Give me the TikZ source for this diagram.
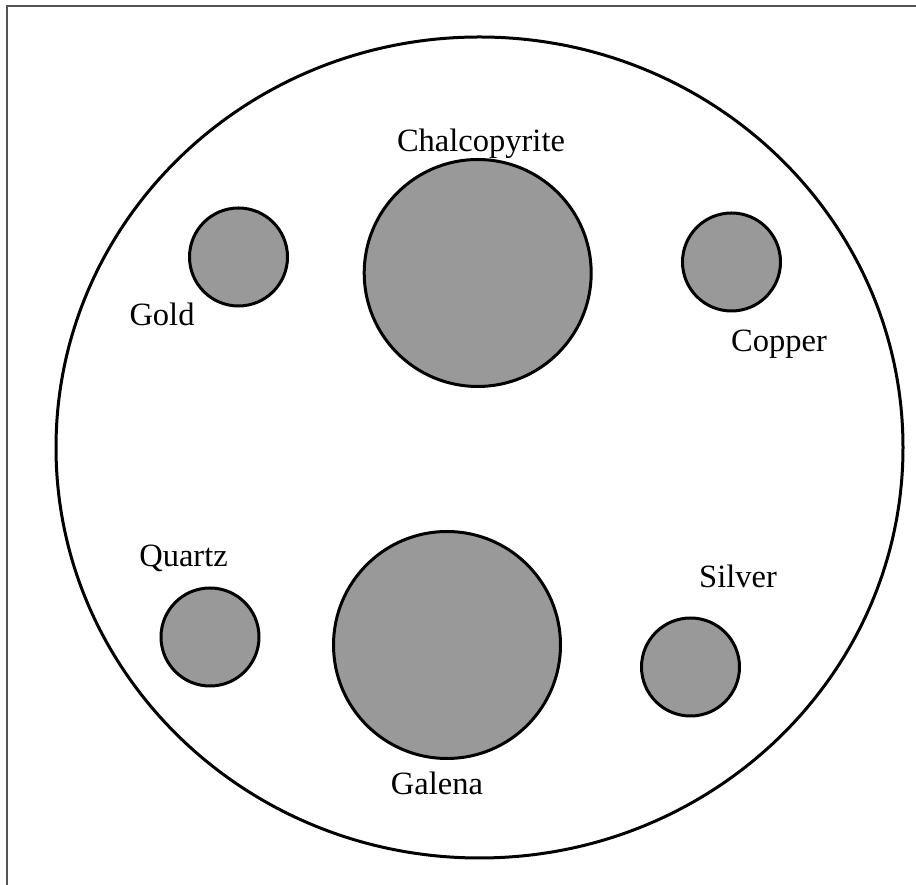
\documentclass[tikz,border=0pt]{standalone}
\usepackage{fontspec}
\setmainfont{Liberation Serif}
\begin{document}
\begin{tikzpicture}[x=1pt,y=1pt,
  grain/.style={draw=black,line width=3pt,fill=black!40},
  lbl/.style={anchor=base,font=\fontsize{32.5}{38}\selectfont,inner sep=0pt}]
\useasboundingbox (0,0) rectangle (916,885);
\draw[line width=1.6pt,color=black!67] (7,0) -- (7,879) -- (916,879);
\draw[line width=3pt] (479.5,437.5) ellipse [x radius=423.5, y radius=410.5];
\node[grain,circle,minimum size=227pt,inner sep=0pt] (chalco) at (477.7,612) {};
\node[grain,circle,minimum size=227pt,inner sep=0pt] (galena) at (447,240) {};
\node[grain,circle,minimum size=98pt,inner sep=0pt] (gold) at (238.5,628) {};
\node[grain,circle,minimum size=98pt,inner sep=0pt] (copper) at (731.5,623) {};
\node[grain,circle,minimum size=98pt,inner sep=0pt] (quartz) at (210,248) {};
\node[grain,circle,minimum size=98pt,inner sep=0pt] (silver) at (690.5,218) {};
\node[lbl] (tchalco) at (481,733) {Chalcopyrite};
\node[lbl] (tgold) at (162,559) {Gold};
\node[lbl] (tcopper) at (779,533) {Copper};
\node[lbl] (tquartz) at (183.5,318) {Quartz};
\node[lbl] (tsilver) at (738,297) {Silver};
\node[lbl] (tgalena) at (437,90) {Galena};
\end{tikzpicture}
\end{document}
